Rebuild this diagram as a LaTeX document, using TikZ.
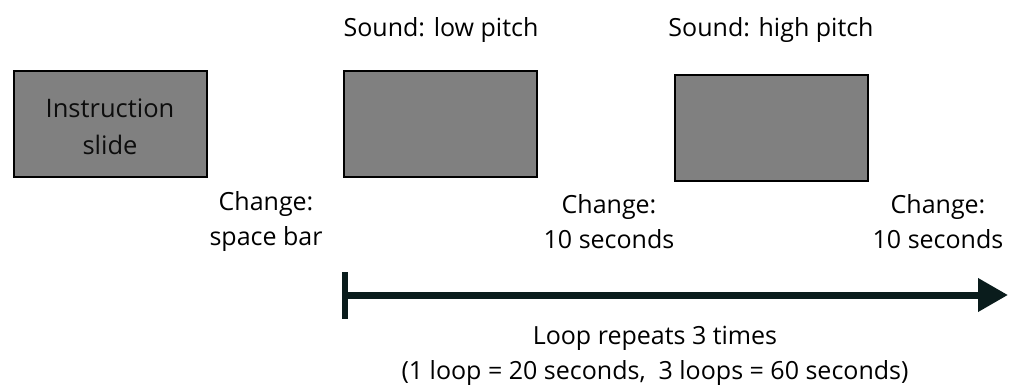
\documentclass[tikz,border=0pt]{standalone}
\usepackage{fontspec}
\setmainfont{Open Sans}
\usetikzlibrary{arrows.meta}
\begin{document}
\begin{tikzpicture}[x=1pt,y=-1pt,
  slide/.style={draw=black,line width=2pt,fill=black!50,minimum width=193pt,minimum height=106pt,inner sep=0pt,align=center,font=\fontsize{25.5}{37}\selectfont,text=black!95},
  lbl/.style={align=center,font=\fontsize{25}{35}\selectfont,inner sep=0pt,text=black},
  timeline/.style={line width=7pt,draw={rgb,255:red,10;green,28;blue,28}}]
\useasboundingbox (0,0) rectangle (1009,388);
\node[slide] (s1) at (110,124) {};
\node[align=center,font=\fontsize{25.5}{37}\selectfont,inner sep=0pt,text=black!95] (s1t) at (110,127) {Instruction\\slide};
\node[slide] (s2) at (440,124) {};
\node[slide] (s3) at (771,128) {};
\node[lbl,anchor=base] (t2) at (441,36) {Sound: low pitch};
\node[lbl,anchor=base] (t3) at (771,36) {Sound: high pitch};
\node[lbl] (c1) at (266,222) {Change:\\space bar};
\node[lbl] (c2) at (609,222) {Change:\\10 seconds};
\node[lbl] (c3) at (938,222) {Change:\\10 seconds};
\coordinate (a0) at (345,295);
\coordinate (a1) at (1008,295);
\coordinate (tk0) at (345,272);
\coordinate (tk1) at (345,319);
\draw[timeline,-{Triangle[length=30pt,width=32pt]}] (a0) -- (a1);
\draw[timeline,line width=6pt] (tk0) -- (tk1);
\node[lbl] (loop) at (655,356) {Loop repeats 3 times\\(1 loop = 20 seconds,\ \ 3 loops = 60 seconds)};
\end{tikzpicture}
\end{document}
